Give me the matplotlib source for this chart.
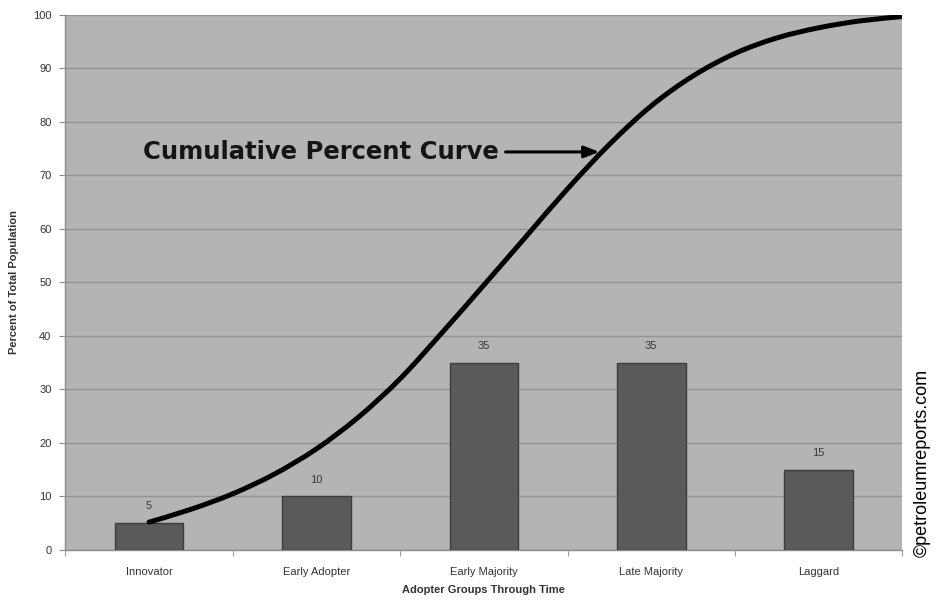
import matplotlib
matplotlib.use("Agg")
import matplotlib.pyplot as plt
import numpy as np
from matplotlib.patches import PathPatch
from matplotlib.path import Path

# 데이터
groups = ["Innovator", "Early Adopter", "Early Majority", "Late Majority", "Laggard"]
shares = [5, 10, 35, 35, 15]

# 누적 곡선 (그림에서 읽은 값, x = 범주 위치)
curve_x = [0, 0.25, 0.5, 0.75, 1.0, 1.25, 1.5, 1.75, 2.0, 2.25, 2.5, 2.75,
           3.0, 3.25, 3.5, 3.75, 4.0, 4.25, 4.5]
curve_y = [5.2, 7.6, 10.5, 14.2, 18.9, 24.8, 32.0, 40.6, 49.5, 58.5, 67.5, 75.8,
           83.0, 88.6, 92.8, 95.7, 97.6, 98.9, 99.7]

y_ticks = list(range(0, 101, 10))

BG = "#b4b4b4"
BAR = "#5a5a5a"
TEXT = "#333333"


def smooth_path(xs, ys):
    """읽은 점들을 지나는 베지어 경로 (Catmull-Rom 방식 제어점)"""
    pts = np.column_stack([xs, ys])
    verts = [pts[0]]
    codes = [Path.MOVETO]
    n = len(pts)
    for i in range(n - 1):
        p0 = pts[max(i - 1, 0)]
        p1 = pts[i]
        p2 = pts[i + 1]
        p3 = pts[min(i + 2, n - 1)]
        c1 = p1 + (p2 - p0) / 6
        c2 = p2 - (p3 - p1) / 6
        verts += [c1, c2, p2]
        codes += [Path.CURVE4] * 3
    return Path(verts, codes)


fig = plt.figure(figsize=(9.4, 6.01), dpi=100, facecolor="white")
ax = fig.add_axes([0.0695, 0.0849, 0.8904, 0.8902])
ax.set_facecolor(BG)

x = np.arange(len(groups))
bars = ax.bar(x, shares, width=0.41, color=BAR, edgecolor="#3c3c3c", linewidth=1.0, zorder=3)

for bar, val in zip(bars, shares):
    ax.text(bar.get_x() + bar.get_width() / 2, val + 2.2, str(val),
            ha="center", va="bottom", fontsize=8, color="#3a3a3a",
            family="Liberation Sans", zorder=4)

curve = PathPatch(smooth_path(curve_x, curve_y), facecolor="none", edgecolor="black",
                  linewidth=3.6, capstyle="round", joinstyle="round", zorder=5)
ax.add_patch(curve)

# 주석 (화살표)
ax.annotate("", xy=(2.69, 74.4), xytext=(2.13, 74.4),
            arrowprops=dict(arrowstyle="-|>,head_length=0.9,head_width=0.35",
                            color="black", lw=2.2, shrinkA=0, shrinkB=0),
            zorder=6)
ax.text(2.09, 74.4, "Cumulative Percent Curve", ha="right", va="center",
        fontsize=17.5, fontweight="bold", color="#151515",
        family="DejaVu Sans", zorder=6)

ax.set_xlim(-0.5, 4.5)
ax.set_ylim(0, 100)
ax.set_yticks(y_ticks)
ax.yaxis.grid(True, color="#939393", linewidth=1.0, zorder=1)
ax.set_axisbelow(True)

ax.set_xticks(x)
ax.set_xticklabels(groups)
ax.set_xticks(np.arange(-0.5, 5.0, 1.0), minor=True)
ax.tick_params(axis="x", which="major", length=0, pad=12, labelsize=8, labelcolor=TEXT)
ax.tick_params(axis="x", which="minor", length=4, color="#888888")
ax.tick_params(axis="y", length=4, color="#888888", pad=6, labelsize=8, labelcolor=TEXT)
for lbl in ax.get_xticklabels() + ax.get_yticklabels():
    lbl.set_family("Liberation Sans")

for s in ["top", "right"]:
    ax.spines[s].set_visible(False)
for s in ["left", "bottom"]:
    ax.spines[s].set_color("#8c8c8c")
    ax.spines[s].set_linewidth(1.0)

ax.set_ylabel("Percent of Total Population", fontsize=8, fontweight="bold",
              color=TEXT, family="Liberation Sans", labelpad=2)
ax.yaxis.set_label_coords(-0.055, 0.5)
ax.set_xlabel("Adopter Groups Through Time", fontsize=8, fontweight="bold",
              color=TEXT, family="Liberation Sans", labelpad=6)

fig.text(0.981, 0.23, "\u00a9petroleumreports.com", rotation=90,
         ha="center", va="center", fontsize=13, color="black", family="Liberation Sans")

fig.savefig("out.png", dpi=100, facecolor="white")
